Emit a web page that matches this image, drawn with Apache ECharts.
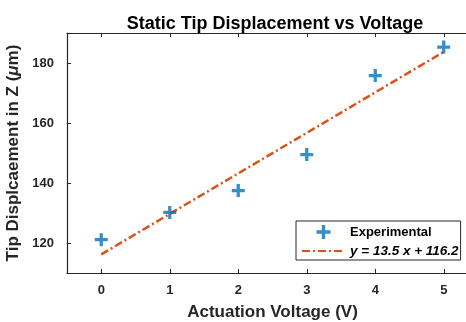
<!DOCTYPE html>
<html>
<head>
<meta charset="utf-8">
<script src="https://cdn.jsdelivr.net/npm/echarts@6/dist/echarts.min.js"></script>
<style>
  html, body { margin: 0; padding: 0; background: #fff; }
  #chart { width: 466px; height: 322px; }
</style>
</head>
<body>
<div id="chart"></div>
<script>
// measured data (Actuation Voltage vs tip displacement)
const voltage = [0, 1, 2, 3, 4, 5];
const displacement = [121.1, 130.2, 137.5, 149.5, 175.8, 185.3];
// fitted line endpoints, y = 13.5 x + 116.2
const fitVoltage = [0, 5];
const fitDisplacement = [116.2, 183.7];
const xTicks = [0, 1, 2, 3, 4, 5];
const yTicks = [120, 140, 160, 180];

const axisColor = '#262626';
const fontFamily = '"Liberation Sans", Arial, Helvetica, sans-serif';
const plusPath = 'path://M4.5,0H7.5V4.5H12V7.5H7.5V12H4.5V7.5H0V4.5H4.5Z';
const fitName = 'y = 13.5 x + 116.2';

const chart = echarts.init(document.getElementById('chart'), null, { renderer: 'canvas' });

const boxAxis = {
  type: 'value',
  axisLine: { show: true, onZero: false, lineStyle: { color: axisColor, width: 1.2 } },
  splitLine: { show: false },
};

const option = {
  backgroundColor: '#fff',
  animation: false,
  textStyle: { fontFamily },
  title: {
    text: 'Static Tip Displacement vs Voltage',
    left: 270,
    top: 10,
    textAlign: 'center',
    textStyle: { fontSize: 18, fontWeight: 'bold', color: '#000', fontFamily },
  },
  // the right edge of the box falls outside the picture, as in the original
  grid: { left: 67, top: 33, width: 411, height: 240, containLabel: false, outerBoundsMode: 'none' },
  legend: {
    left: 296,
    top: 221,
    orient: 'vertical',
    itemWidth: 43,
    itemHeight: 14,
    itemGap: 5,
    padding: [4, 2, 2, 5],
    borderColor: axisColor,
    borderWidth: 1,
    backgroundColor: '#fff',
    textStyle: { fontSize: 13, fontWeight: 'bold', color: '#000', fontFamily },
    formatter: (name) => (name === 'Experimental' ? name : `{i|${name}}`),
    data: ['Experimental', { name: fitName, itemStyle: { opacity: 0 } }],
  },
  xAxis: [
    {
      ...boxAxis,
      position: 'bottom',
      min: -0.5,
      max: 5.5,
      name: 'Actuation Voltage (V)',
      nameLocation: 'middle',
      nameGap: 31,
      nameTextStyle: { fontSize: 17, fontWeight: 'bold', color: axisColor, fontFamily },
      axisTick: { show: true, inside: true, length: 4, customValues: xTicks, lineStyle: { color: axisColor } },
      axisLabel: { customValues: xTicks, margin: 11, fontSize: 13, fontWeight: 'bold', color: axisColor },
    },
    {
      ...boxAxis,
      position: 'top',
      min: -0.5,
      max: 5.5,
      axisTick: { show: true, inside: true, length: 4, customValues: xTicks, lineStyle: { color: axisColor } },
      axisLabel: { show: false },
    },
  ],
  yAxis: [
    {
      ...boxAxis,
      position: 'left',
      min: 110,
      max: 190,
      name: 'Tip Displcaement in Z ({mu|\u03bc}m)',
      nameLocation: 'middle',
      nameRotate: 90,
      nameGap: 37,
      nameTextStyle: {
        fontSize: 17,
        fontWeight: 'bold',
        color: axisColor,
        fontFamily,
        rich: { mu: { fontSize: 17, fontStyle: 'italic', color: axisColor, fontFamily } },
      },
      axisTick: { show: true, inside: true, length: 4, customValues: yTicks, lineStyle: { color: axisColor } },
      axisLabel: { customValues: yTicks, margin: 13, fontSize: 13, fontWeight: 'bold', color: axisColor },
    },
    {
      ...boxAxis,
      position: 'right',
      min: 110,
      max: 190,
      axisTick: { show: false },
      axisLabel: { show: false },
    },
  ],
  series: [
    {
      name: fitName,
      type: 'line',
      data: fitVoltage.map((v, i) => [v, fitDisplacement[i]]),
      symbol: 'none',
      color: '#D95319',
      lineStyle: { color: '#D95319', width: 2.5, type: [8, 3, 2, 3] },
      z: 2,
    },
    {
      name: 'Experimental',
      type: 'scatter',
      data: voltage.map((v, i) => [v, displacement[i]]),
      symbol: plusPath,
      symbolSize: 13,
      symbolKeepAspect: true,
      color: '#0072BD',
      itemStyle: { color: '#0072BD' },
      z: 3,
    },
  ],
};

option.legend.textStyle.rich = {
  i: { fontSize: 13.5, fontWeight: 'bold', fontStyle: 'italic', color: '#000', fontFamily },
};

chart.setOption(option);
</script>
</body>
</html>
